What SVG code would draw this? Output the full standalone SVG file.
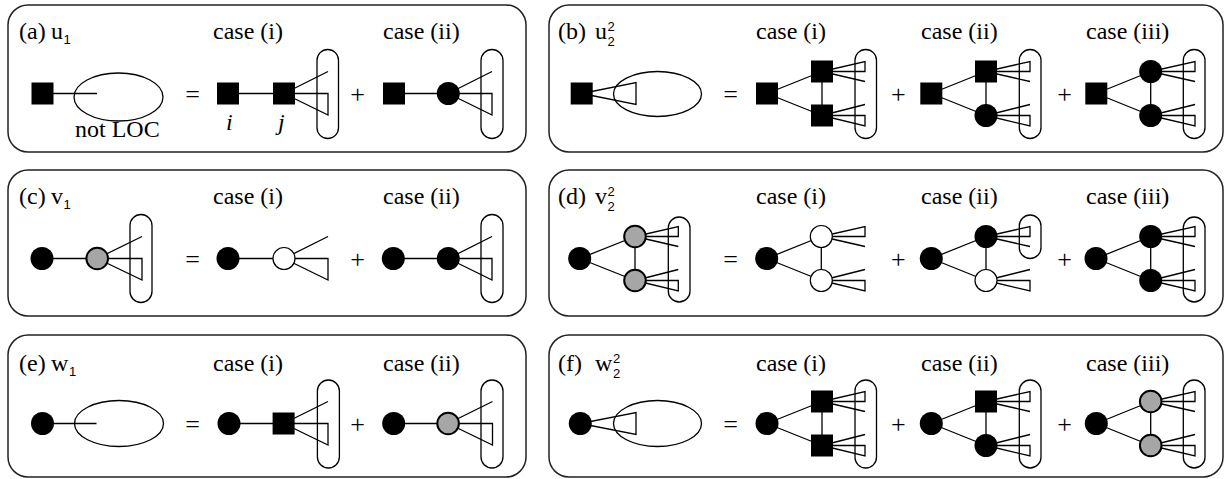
<svg xmlns="http://www.w3.org/2000/svg" width="1228" height="479" viewBox="0 0 1228 479">
<style>
.box{fill:none;stroke:#222;stroke-width:1.5}
.ln{fill:none;stroke:#000;stroke-width:1.3}
.pill{fill:none;stroke:#000;stroke-width:1.3}
.sq{fill:#000}
.bk{fill:#000}
.gr{fill:#a6a6a6;stroke:#000;stroke-width:2}
.wh{fill:#fff;stroke:#000;stroke-width:1.2}
.t{font-family:"Liberation Serif","Times New Roman",serif;font-size:24px;fill:#000}
.op{font-family:"Liberation Serif","Times New Roman",serif;font-size:26px;text-anchor:middle;fill:#000}
.idx{font-family:"Liberation Sans",Arial,sans-serif;font-size:13px;fill:#000}
.it{font-family:"Liberation Serif","Times New Roman",serif;font-size:24px;font-style:italic;fill:#000}
</style>
<rect x="0" y="0" width="1228" height="479" fill="#fff"/>

<!-- Panel (a) -->
<g id="panel-a">
<rect class="box" x="8" y="5" width="518" height="147" rx="20"/>
<text class="t" x="19" y="39">(a)</text><text class="t" x="51" y="39">u</text><text class="idx" x="63.5" y="44">1</text>
<text class="t" x="213" y="39">case (i)</text><text class="t" x="383" y="39">case (ii)</text>
<text class="t" x="75" y="137">not LOC</text>
<text class="op" x="192.5" y="103">=</text>
<text class="op" x="357.5" y="103">+</text>
<text class="it" x="226" y="130">i</text><text class="it" x="278" y="130">j</text>
</g>

<!-- Panel (b) -->
<g id="panel-b">
<rect class="box" x="549" y="5" width="674" height="147" rx="20"/>
<text class="t" x="558" y="39">(b)</text><text class="t" x="595" y="39">u</text><text class="idx" x="607.5" y="31">2</text><text class="idx" x="607.5" y="46">2</text>
<text class="t" x="756" y="39">case (i)</text><text class="t" x="921" y="39">case (ii)</text><text class="t" x="1086" y="39">case (iii)</text>
<text class="op" x="730.5" y="103">=</text>
<text class="op" x="898.3" y="103">+</text>
<text class="op" x="1064.7" y="103">+</text>
</g>

<!-- Panel (c) -->
<g id="panel-c">
<rect class="box" x="8" y="170" width="518" height="146" rx="20"/>
<text class="t" x="19" y="204">(c)</text><text class="t" x="51" y="204">v</text><text class="idx" x="63.5" y="209">1</text>
<text class="t" x="213" y="204">case (i)</text><text class="t" x="383" y="204">case (ii)</text>
<text class="op" x="192.5" y="268">=</text>
<text class="op" x="357.5" y="268">+</text>
</g>

<!-- Panel (d) -->
<g id="panel-d">
<rect class="box" x="549" y="170" width="674" height="146" rx="20"/>
<text class="t" x="558" y="204">(d)</text><text class="t" x="595" y="204">v</text><text class="idx" x="607.5" y="196">2</text><text class="idx" x="607.5" y="211">2</text>
<text class="t" x="756" y="204">case (i)</text><text class="t" x="921" y="204">case (ii)</text><text class="t" x="1086" y="204">case (iii)</text>
<text class="op" x="730.5" y="268">=</text>
<text class="op" x="898.3" y="268">+</text>
<text class="op" x="1064.7" y="268">+</text>
</g>

<!-- Panel (e) -->
<g id="panel-e">
<rect class="box" x="8" y="335" width="518" height="142" rx="20"/>
<text class="t" x="19" y="371">(e)</text><text class="t" x="51" y="371">w</text><text class="idx" x="69" y="376">1</text>
<text class="t" x="213" y="371">case (i)</text><text class="t" x="383" y="371">case (ii)</text>
<text class="op" x="192.5" y="433">=</text>
<text class="op" x="357.5" y="433">+</text>
</g>

<!-- Panel (f) -->
<g id="panel-f">
<rect class="box" x="549" y="335" width="674" height="142" rx="20"/>
<text class="t" x="558" y="371">(f)</text><text class="t" x="595" y="371">w</text><text class="idx" x="613" y="363">2</text><text class="idx" x="613" y="378">2</text>
<text class="t" x="756" y="371">case (i)</text><text class="t" x="921" y="371">case (ii)</text><text class="t" x="1086" y="371">case (iii)</text>
<text class="op" x="730.5" y="433">=</text>
<text class="op" x="898.3" y="433">+</text>
<text class="op" x="1064.7" y="433">+</text>
</g>

<!-- Connectors, fans, ellipses and pills -->
<g id="connectors">
<!-- (a) -->
<line class="ln" x1="42.5" y1="93.5" x2="97" y2="93.5"/>
<ellipse class="ln" cx="118.5" cy="97" rx="44.5" ry="24"/>
<line class="ln" x1="228" y1="93.5" x2="284" y2="93.5"/>
<line class="ln" x1="284" y1="93.5" x2="328" y2="71.5"/>
<polygon class="ln" points="284,93.5 328,93.5 328,115"/>
<rect class="pill" x="317" y="49.5" width="21.5" height="89" rx="10.75"/>
<line class="ln" x1="394" y1="93.5" x2="448.3" y2="93.5"/>
<line class="ln" x1="448.3" y1="93.5" x2="492" y2="71.5"/>
<polygon class="ln" points="448.3,93.5 492,93.5 492,115"/>
<rect class="pill" x="481" y="49.5" width="22" height="89" rx="11"/>

<!-- (b) -->
<polygon class="ln" points="581.7,93.5 636,82.5 636,104.5"/>
<ellipse class="ln" cx="657.5" cy="94" rx="44" ry="22.5"/>
<path class="ln" d="M767,93.5 L822,71.5 M767,93.5 L822,115.5 M822,71.5 V115.5 M822,71.5 L865,61.5 L865,71.5 Z M822,71.5 L865,81.5 M822,115.5 L865,104.5 M822,115.5 L865,115.5 L865,126 Z"/>
<rect class="pill" x="855" y="49.5" width="21.5" height="89" rx="10.75"/>
<path class="ln" d="M931.3,93.5 L986,71.5 M931.3,93.5 L986,115.5 M986,71.5 V115.5 M986,71.5 L1030,61.5 L1030,71.5 Z M986,71.5 L1030,81.5 M986,115.5 L1030,104.5 M986,115.5 L1030,115.5 L1030,126 Z"/>
<rect class="pill" x="1019.3" y="49.5" width="21.7" height="89" rx="10.85"/>
<path class="ln" d="M1096.3,93.5 L1150.7,71.5 M1096.3,93.5 L1150.7,115.5 M1150.7,71.5 V115.5 M1150.7,71.5 L1195,61.5 L1195,71.5 Z M1150.7,71.5 L1195,81.5 M1150.7,115.5 L1195,104.5 M1150.7,115.5 L1195,115.5 L1195,126 Z"/>
<rect class="pill" x="1183.3" y="49.5" width="21.7" height="89" rx="10.85"/>

<!-- (c) -->
<line class="ln" x1="42" y1="258.5" x2="97.2" y2="258.5"/>
<line class="ln" x1="97.2" y1="258.5" x2="142" y2="236.5"/>
<polygon class="ln" points="97.2,258.5 142,258.5 142,280"/>
<rect class="pill" x="130" y="214.5" width="22" height="88" rx="11"/>
<line class="ln" x1="228" y1="258.5" x2="284" y2="258.5"/>
<line class="ln" x1="284" y1="258.5" x2="328" y2="236.5"/>
<polygon class="ln" points="284,258.5 328,258.5 328,280"/>
<line class="ln" x1="393.3" y1="258.5" x2="448.3" y2="258.5"/>
<line class="ln" x1="448.3" y1="258.5" x2="492" y2="236.5"/>
<polygon class="ln" points="448.3,258.5 492,258.5 492,280"/>
<rect class="pill" x="481" y="214.5" width="22" height="88" rx="11"/>

<!-- (d) -->
<path class="ln" d="M579.7,258.5 L635,236.5 M579.7,258.5 L635,280.5 M635,236.5 V280.5 M635,236.5 L678.3,226.5 L678.3,236.5 Z M635,236.5 L678.3,246.5 M635,280.5 L678.3,269.5 M635,280.5 L678.3,280.5 L678.3,291 Z"/>
<rect class="pill" x="668.3" y="217" width="21.7" height="85" rx="10.85"/>
<path class="ln" d="M766.7,258.5 L821.3,236.5 M766.7,258.5 L821.3,280.5 M821.3,236.5 V280.5 M821.3,236.5 L865,226.5 L865,236.5 Z M821.3,236.5 L865,246.5 M821.3,280.5 L865,269.5 M821.3,280.5 L865,280.5 L865,291 Z"/>
<path class="ln" d="M931.3,258.5 L986,236.5 M931.3,258.5 L986,280.5 M986,236.5 V280.5 M986,236.5 L1030,226.5 L1030,236.5 Z M986,236.5 L1030,246.5 M986,280.5 L1030,269.5 M986,280.5 L1030,280.5 L1030,291 Z"/>
<rect class="pill" x="1019.3" y="215" width="21.7" height="43.5" rx="10.85"/>
<path class="ln" d="M1096,258.5 L1150.7,236.5 M1096,258.5 L1150.7,280.5 M1150.7,236.5 V280.5 M1150.7,236.5 L1195,226.5 L1195,236.5 Z M1150.7,236.5 L1195,246.5 M1150.7,280.5 L1195,269.5 M1150.7,280.5 L1195,280.5 L1195,291 Z"/>
<rect class="pill" x="1183.3" y="217" width="21.7" height="85" rx="10.85"/>

<!-- (e) -->
<line class="ln" x1="42.5" y1="423.5" x2="96.5" y2="423.5"/>
<ellipse class="ln" cx="119" cy="423.5" rx="44.5" ry="23"/>
<line class="ln" x1="229" y1="423.5" x2="283.6" y2="423.5"/>
<line class="ln" x1="283.6" y1="423.5" x2="328" y2="401.5"/>
<polygon class="ln" points="283.6,423.5 328,423.5 328,445"/>
<rect class="pill" x="317.4" y="380" width="22" height="88" rx="11"/>
<line class="ln" x1="393.7" y1="423.5" x2="448.1" y2="423.5"/>
<line class="ln" x1="448.1" y1="423.5" x2="492.5" y2="401.5"/>
<polygon class="ln" points="448.1,423.5 492.5,423.5 492.5,445"/>
<rect class="pill" x="481" y="380" width="22" height="88" rx="11"/>

<!-- (f) -->
<polygon class="ln" points="580.3,423.5 636,412.5 636,434.5"/>
<ellipse class="ln" cx="657.5" cy="423.5" rx="44" ry="23"/>
<path class="ln" d="M767,423.5 L822,401.5 M767,423.5 L822,445.5 M822,401.5 V445.5 M822,401.5 L865,391.5 L865,401.5 Z M822,401.5 L865,411.5 M822,445.5 L865,434.5 M822,445.5 L865,445.5 L865,456 Z"/>
<rect class="pill" x="855" y="380" width="21.5" height="88" rx="10.75"/>
<path class="ln" d="M931.3,423.5 L986,401.5 M931.3,423.5 L986,445.5 M986,401.5 V445.5 M986,401.5 L1030,391.5 L1030,401.5 Z M986,401.5 L1030,411.5 M986,445.5 L1030,434.5 M986,445.5 L1030,445.5 L1030,456 Z"/>
<rect class="pill" x="1019.3" y="380" width="21.7" height="88" rx="10.85"/>
<path class="ln" d="M1096.3,423.5 L1150.7,401.5 M1096.3,423.5 L1150.7,445.5 M1150.7,401.5 V445.5 M1150.7,401.5 L1195,391.5 L1195,401.5 Z M1150.7,401.5 L1195,411.5 M1150.7,445.5 L1195,434.5 M1150.7,445.5 L1195,445.5 L1195,456 Z"/>
<rect class="pill" x="1183.3" y="380" width="21.7" height="88" rx="10.85"/>
</g>

<!-- Nodes -->
<g id="nodes-a">
<rect class="sq" x="31.5" y="82.5" width="22" height="22"/>
<rect class="sq" x="217" y="82.5" width="22" height="22"/>
<rect class="sq" x="273" y="82.5" width="22" height="22"/>
<rect class="sq" x="383" y="82.5" width="22" height="22"/>
<circle class="bk" cx="448.3" cy="93.5" r="11.5"/>
</g>
<g id="nodes-b">
<rect class="sq" x="570.7" y="82.5" width="22" height="22"/>
<rect class="sq" x="756" y="82.5" width="22" height="22"/>
<rect class="sq" x="811" y="60.5" width="22" height="22"/>
<rect class="sq" x="811" y="104.5" width="22" height="22"/>
<rect class="sq" x="920.3" y="82.5" width="22" height="22"/>
<rect class="sq" x="975" y="60.5" width="22" height="22"/>
<circle class="bk" cx="986" cy="115.5" r="11.5"/>
<rect class="sq" x="1085.3" y="82.5" width="22" height="22"/>
<circle class="bk" cx="1150.7" cy="71.5" r="11.5"/>
<circle class="bk" cx="1150.7" cy="115.5" r="11.5"/>
</g>
<g id="nodes-c">
<circle class="bk" cx="42" cy="258.5" r="11.5"/>
<circle class="gr" cx="97.2" cy="258.5" r="10.8"/>
<circle class="bk" cx="228" cy="258.5" r="11.5"/>
<circle class="wh" cx="284" cy="258.5" r="11"/>
<circle class="bk" cx="393.3" cy="258.5" r="11.5"/>
<circle class="bk" cx="448.3" cy="258.5" r="11.5"/>
</g>
<g id="nodes-d">
<circle class="bk" cx="579.7" cy="258.5" r="11.5"/>
<circle class="gr" cx="635" cy="236.5" r="10.8"/>
<circle class="gr" cx="635" cy="280.5" r="10.8"/>
<circle class="bk" cx="766.7" cy="258.5" r="11.5"/>
<circle class="wh" cx="821.3" cy="236.5" r="11"/>
<circle class="wh" cx="821.3" cy="280.5" r="11"/>
<circle class="bk" cx="931.3" cy="258.5" r="11.5"/>
<circle class="bk" cx="986" cy="236.5" r="11.5"/>
<circle class="wh" cx="986" cy="280.5" r="11"/>
<circle class="bk" cx="1096" cy="258.5" r="11.5"/>
<circle class="bk" cx="1150.7" cy="236.5" r="11.5"/>
<circle class="bk" cx="1150.7" cy="280.5" r="11.5"/>
</g>
<g id="nodes-e">
<circle class="bk" cx="42.5" cy="423.5" r="11.5"/>
<circle class="bk" cx="229" cy="423.5" r="11.5"/>
<rect class="sq" x="272.6" y="412.5" width="22" height="22"/>
<circle class="bk" cx="393.7" cy="423.5" r="11.5"/>
<circle class="gr" cx="448.1" cy="423.5" r="10.8"/>
</g>
<g id="nodes-f">
<circle class="bk" cx="580.3" cy="423.5" r="11.5"/>
<circle class="bk" cx="767" cy="423.5" r="11.5"/>
<rect class="sq" x="811" y="390.5" width="22" height="22"/>
<rect class="sq" x="811" y="434.5" width="22" height="22"/>
<circle class="bk" cx="931.3" cy="423.5" r="11.5"/>
<rect class="sq" x="975" y="390.5" width="22" height="22"/>
<circle class="bk" cx="986" cy="445.5" r="11.5"/>
<circle class="bk" cx="1096.3" cy="423.5" r="11.5"/>
<circle class="gr" cx="1150.7" cy="401.5" r="10.8"/>
<circle class="gr" cx="1150.7" cy="445.5" r="10.8"/>
</g>
</svg>
